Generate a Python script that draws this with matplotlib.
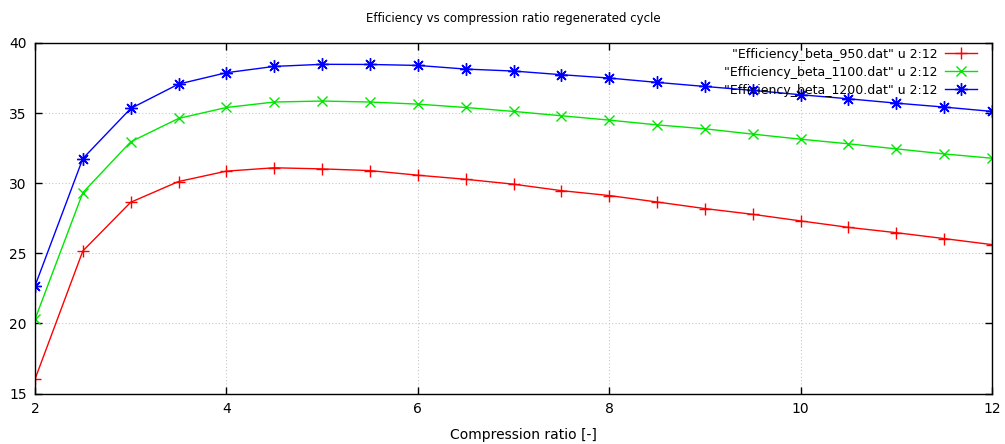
import matplotlib
matplotlib.use("Agg")
import matplotlib.pyplot as plt

ratio = [2, 2.5, 3, 3.5, 4, 4.5, 5, 5.5, 6, 6.5, 7, 7.5, 8, 8.5, 9, 9.5, 10, 10.5, 11, 11.5, 12]
eff_950 = [16.02, 25.17, 28.64, 30.12, 30.86, 31.10, 31.02, 30.90, 30.57, 30.28, 29.93, 29.47,
           29.12, 28.66, 28.19, 27.78, 27.31, 26.85, 26.47, 26.05, 25.62]
eff_1100 = [20.29, 29.33, 32.95, 34.62, 35.40, 35.79, 35.86, 35.79, 35.64, 35.40, 35.12, 34.81,
            34.50, 34.16, 33.88, 33.50, 33.14, 32.81, 32.45, 32.09, 31.78]
eff_1200 = [22.67, 31.76, 35.33, 37.07, 37.88, 38.33, 38.48, 38.47, 38.40, 38.14, 38.00, 37.74,
            37.50, 37.19, 36.90, 36.62, 36.31, 36.02, 35.71, 35.43, 35.12]
labels = ['"Efficiency_beta_950.dat" u 2:12',
          '"Efficiency_beta_1100.dat" u 2:12',
          '"Efficiency_beta_1200.dat" u 2:12']
xticks = [2, 4, 6, 8, 10, 12]
yticks = [15, 20, 25, 30, 35, 40]

plt.rcParams['font.family'] = ['DejaVu Sans']

fig = plt.figure(figsize=(10.05, 4.44), dpi=100)
ax = fig.add_axes([35 / 1005, 1 - 393.5 / 444, (992 - 35) / 1005, (393.5 - 43) / 444])

ax.plot(ratio, eff_950, color='#ff0000', lw=1, marker='+', ms=9, mew=1, label=labels[0])
ax.plot(ratio, eff_1100, color='#00e600', lw=1, marker='x', ms=7, mew=1, label=labels[1])
ax.plot(ratio, eff_1200, color='#0000ff', lw=1, marker=(8, 2, 0), ms=9, mew=1, label=labels[2])

ax.set_xlim(2, 12)
ax.set_ylim(15, 40)
ax.set_xticks(xticks)
ax.set_yticks(yticks)
ax.tick_params(direction='in', top=True, right=True, length=5, width=1, labelsize=10, pad=6)
ax.grid(True, color='#c8c8c8', linestyle=(0, (1, 2)), linewidth=0.8)
for s in ax.spines.values():
    s.set_linewidth(1)

ax.set_title('Efficiency vs compression ratio regenerated cycle', fontsize=8.5, pad=15)
ax.set_xlabel('Compression ratio [-]', fontsize=10)
ax.xaxis.set_label_coords((523 - 35) / 957, -(428 - 393.5) / 350.5)

leg = ax.legend(loc='upper right', frameon=False, markerfirst=False, fontsize=9,
                handlelength=2.55, handletextpad=0.65, labelspacing=0.4,
                borderpad=0.15, borderaxespad=0.0, bbox_to_anchor=(0.9865, 0.992))
for t in leg.get_texts():
    t.set_ha('right')

fig.savefig('out.png', dpi=100)
